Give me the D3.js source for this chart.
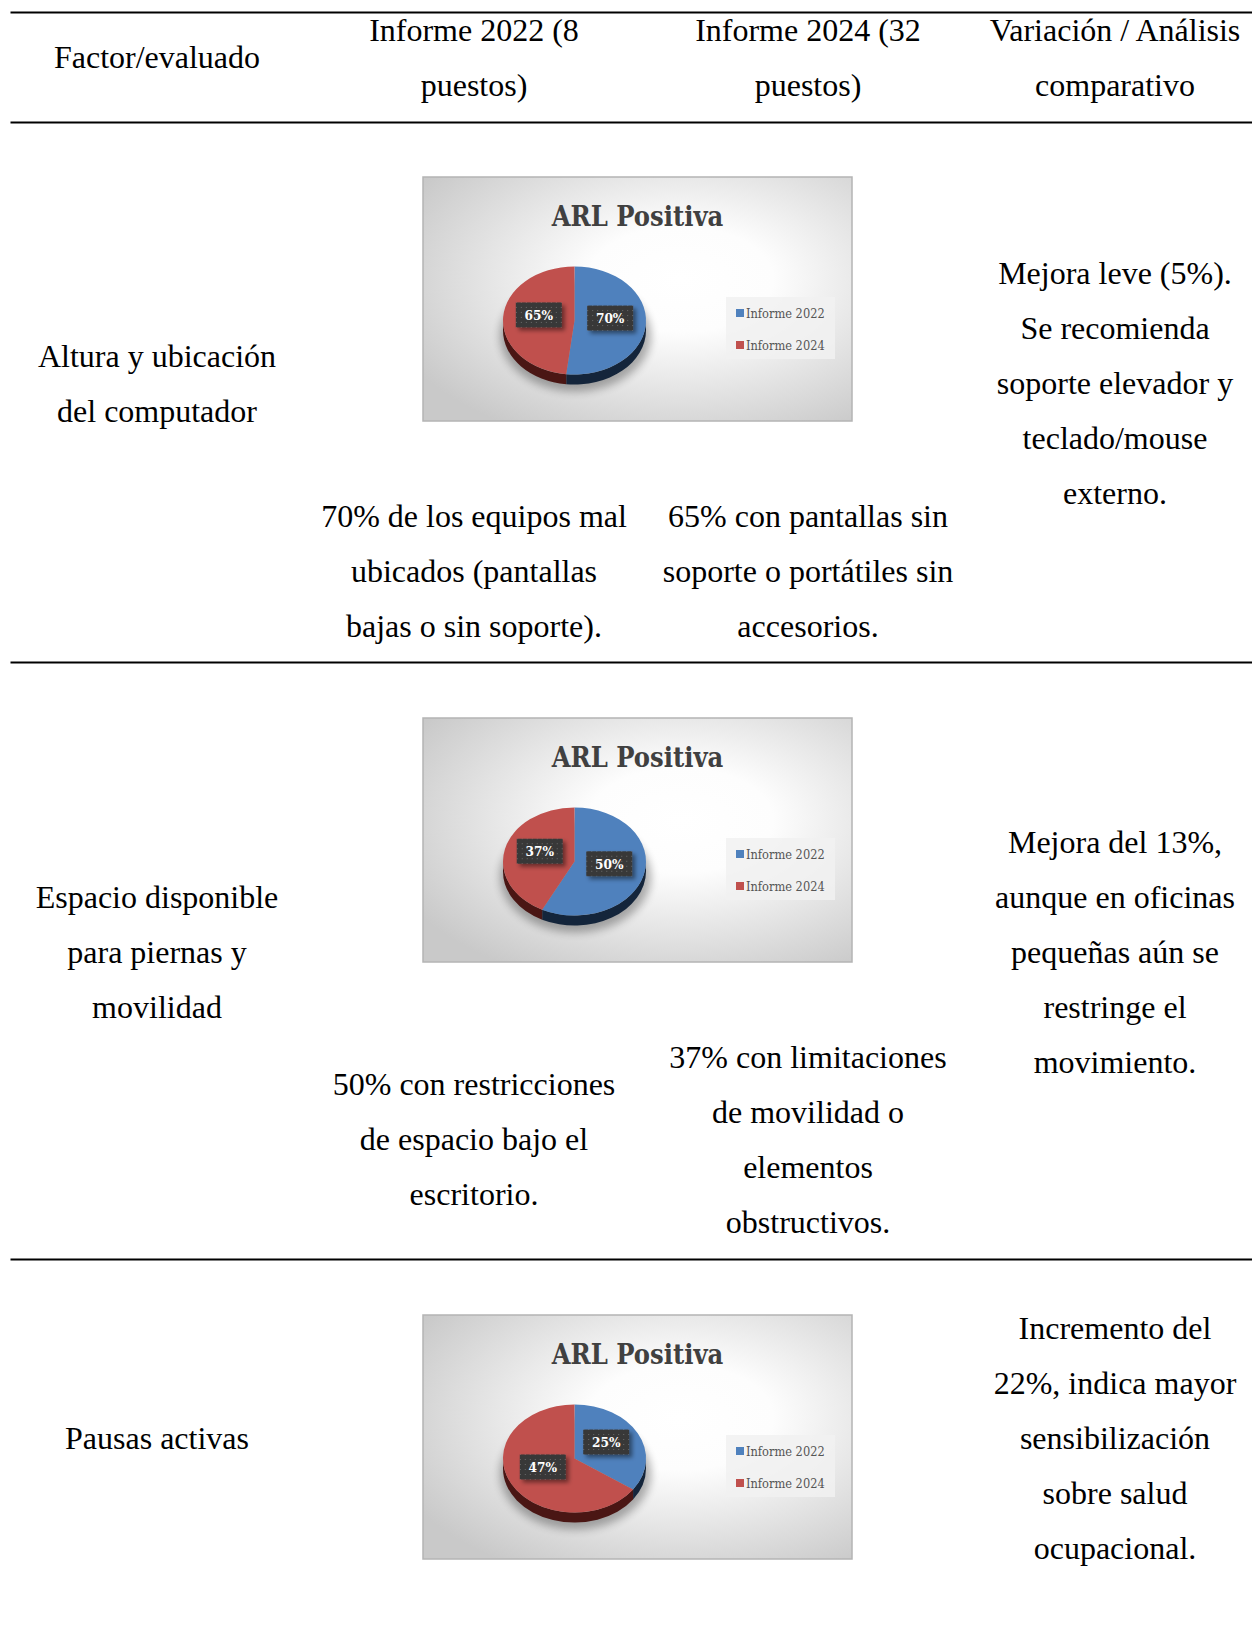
<!DOCTYPE html>
<html>
<head>
<meta charset="utf-8">
<script src="https://cdn.jsdelivr.net/npm/d3@7"></script>
<style>
  body { margin: 0; background: #ffffff; }
  svg { display: block; }
</style>
</head>
<body>
<svg id="page"></svg>
<script>
// ---- Table content ----
const headers = [
  ["Factor/evaluado"],
  ["Informe 2022 (8", "puestos)"],
  ["Informe 2024 (32", "puestos)"],
  ["Variación / Análisis", "comparativo"]
];
const factors = [
  ["Altura y ubicación", "del computador"],
  ["Espacio disponible", "para piernas y", "movilidad"],
  ["Pausas activas"]
];
const notes2022 = [
  ["70% de los equipos mal", "ubicados (pantallas", "bajas o sin soporte)."],
  ["50% con restricciones", "de espacio bajo el", "escritorio."],
  []
];
const notes2024 = [
  ["65% con pantallas sin", "soporte o portátiles sin", "accesorios."],
  ["37% con limitaciones", "de movilidad o", "elementos", "obstructivos."],
  []
];
const analysis = [
  ["Mejora leve (5%).", "Se recomienda", "soporte elevador y", "teclado/mouse", "externo."],
  ["Mejora del 13%,", "aunque en oficinas", "pequeñas aún se", "restringe el", "movimiento."],
  ["Incremento del", "22%, indica mayor", "sensibilización", "sobre salud", "ocupacional."]
];

// ---- Pie chart data (one chart per row) ----
const chartTitle = "ARL Positiva";
const seriesNames = ["Informe 2022", "Informe 2024"];
const values2022 = [70, 50, 25];
const values2024 = [65, 37, 47];

// ---- Layout ----
const W = 1252, H = 1625;
const colX = [157, 474, 808, 1115];
const rules = [12.5, 122.5, 662.5, 1259.5];
const lineGap = 55;
const headerMid = 68;
const rowMid = [394, 963, 1449];
const noteMid = [582, 1150, null];
const chartTop = [177, 718, 1315];
const chartLeft = 423, chartW = 429, chartH = 244;

const svg = d3.select("#page").attr("width", W).attr("height", H);
const defs = svg.append("defs");

// Chart plot-area background
const bg = defs.append("radialGradient").attr("id", "plotBg")
  .attr("cx", 0.6).attr("cy", 0.42).attr("r", 0.72).attr("fx", 0.6).attr("fy", 0.42);
bg.append("stop").attr("offset", 0).attr("stop-color", "#ffffff");
bg.append("stop").attr("offset", 0.3).attr("stop-color", "#fdfdfd");
bg.append("stop").attr("offset", 1).attr("stop-color", "#c9c9c9");

// Colors of the two series and their darker sides
const topColor = d3.scaleOrdinal().domain(seriesNames).range(["#4f81bd", "#c0504d"]);
const sideStops = {
  "Informe 2022": ["#14253b", "#2b4b74", "#1a3150"],
  "Informe 2024": ["#4a1614", "#8c3431", "#5c1f1d"]
};

// Dotted label-box fill
const pat = defs.append("pattern").attr("id", "dots")
  .attr("width", 5).attr("height", 5).attr("patternUnits", "userSpaceOnUse");
pat.append("rect").attr("width", 5).attr("height", 5).attr("fill", "#383838");
pat.append("rect").attr("x", 2).attr("y", 2).attr("width", 1).attr("height", 1).attr("fill", "#6c6c6c");

const ds = defs.append("filter").attr("id", "boxShadow")
  .attr("x", "-30%").attr("y", "-30%").attr("width", "170%").attr("height", "190%");
ds.append("feDropShadow").attr("dx", 3).attr("dy", 3).attr("stdDeviation", 2)
  .attr("flood-color", "#000").attr("flood-opacity", 0.45);

const blur = defs.append("filter").attr("id", "pieShadow")
  .attr("x", "-30%").attr("y", "-50%").attr("width", "160%").attr("height", "200%");
blur.append("feGaussianBlur").attr("stdDeviation", 4.5);

// ---- Table rules ----
svg.selectAll("line.rule").data(rules).join("line")
  .attr("class", "rule")
  .attr("x1", 10.5).attr("x2", W)
  .attr("y1", d => d).attr("y2", d => d)
  .attr("stroke", "#000").attr("stroke-width", 1.8);

// ---- Text helpers ----
function textBlock(lines, x, mid) {
  const n = lines.length;
  svg.append("g").selectAll("text").data(lines).join("text")
    .attr("x", x)
    .attr("y", (d, i) => mid + (i - (n - 1) / 2) * lineGap)
    .attr("text-anchor", "middle")
    .attr("font-family", "'Liberation Serif', 'Times New Roman', serif")
    .attr("font-size", 32)
    .attr("fill", "#000")
    .text(d => d);
}

headers.forEach((h, i) => textBlock(h, colX[i], headerMid));
factors.forEach((f, r) => {
  textBlock(f, colX[0], rowMid[r]);
  textBlock(analysis[r], colX[3], rowMid[r]);
  if (noteMid[r] !== null) {
    textBlock(notes2022[r], colX[1], noteMid[r]);
    textBlock(notes2024[r], colX[2], noteMid[r]);
  }
});

// ---- 3D-style pie chart ----
const pie = d3.pie().sort(null).value(d => d.value);
const rx = 71.5, ry = 54, depth = 10;
const pcx = 151.5, pcy = 143.5;
const arc = d3.arc().innerRadius(0).outerRadius(rx);
const ept = (a, dy = 0) => [pcx + rx * Math.sin(a), pcy - ry * Math.cos(a) + dy];

function drawChart(r) {
  const g = svg.append("g").attr("transform", `translate(${chartLeft},${chartTop[r]})`);
  const data = seriesNames.map((s, i) => ({ name: s, value: i === 0 ? values2022[r] : values2024[r] }));
  const slices = pie(data);

  g.append("rect").attr("x", 0).attr("y", 0).attr("width", chartW).attr("height", chartH)
    .attr("fill", "url(#plotBg)").attr("stroke", "#b4b4b4").attr("stroke-width", 1.5);

  g.append("text").attr("x", chartW / 2).attr("y", 49)
    .attr("text-anchor", "middle")
    .attr("font-family", "'DejaVu Serif Condensed', 'DejaVu Serif', serif")
    .attr("font-stretch", "condensed")
    .attr("font-weight", "bold").attr("font-size", 27)
    .attr("fill", "#404040").text(chartTitle);

  // soft floor shadow
  g.append("ellipse").attr("cx", pcx + 1).attr("cy", pcy + depth + 5)
    .attr("rx", rx + 4).attr("ry", ry + 2)
    .attr("fill", "#000").attr("opacity", 0.3).attr("filter", "url(#pieShadow)");

  // side walls (front half only)
  slices.forEach((s, i) => {
    const a0 = Math.max(s.startAngle, Math.PI / 2);
    const a1 = Math.min(s.endAngle, 3 * Math.PI / 2);
    if (a0 >= a1) return;
    const gid = `side${r}_${i}`;
    const lg = defs.append("linearGradient").attr("id", gid)
      .attr("gradientUnits", "userSpaceOnUse")
      .attr("x1", chartLeft + pcx - rx).attr("x2", chartLeft + pcx + rx)
      .attr("y1", 0).attr("y2", 0);
    sideStops[s.data.name].forEach((c, k) => lg.append("stop").attr("offset", k / 2).attr("stop-color", c));
    const p0 = ept(a0), p1 = ept(a1), q1 = ept(a1, depth), q0 = ept(a0, depth);
    const d = `M${p0}A${rx},${ry} 0 0 1 ${p1}L${q1}A${rx},${ry} 0 0 0 ${q0}Z`;
    g.append("path").attr("d", d).attr("fill", `url(#${gid})`);
  });

  // top face
  g.append("g").attr("transform", `translate(${pcx},${pcy}) scale(1,${ry / rx})`)
    .selectAll("path").data(slices).join("path")
    .attr("d", arc)
    .attr("fill", d => topColor(d.data.name));

  // data labels
  slices.forEach(s => {
    const a = (s.startAngle + s.endAngle) / 2;
    const lx = pcx + 0.5 * rx * Math.sin(a);
    const ly = pcy - 0.5 * ry * Math.cos(a) - 4;
    const lbl = g.append("g").attr("transform", `translate(${lx},${ly})`);
    lbl.append("rect").attr("x", -23).attr("y", -12.5).attr("width", 46).attr("height", 25)
      .attr("fill", "url(#dots)").attr("filter", "url(#boxShadow)");
    lbl.append("text").attr("y", 5).attr("text-anchor", "middle")
      .attr("font-family", "'DejaVu Serif Condensed', 'DejaVu Serif', serif")
      .attr("font-stretch", "condensed")
      .attr("font-weight", "bold").attr("font-size", 13.5)
      .attr("fill", "#ffffff").text(s.data.value + "%");
  });

  // legend
  const lgd = g.append("g").attr("transform", "translate(303,120)");
  lgd.append("rect").attr("width", 109).attr("height", 62)
    .attr("fill", "#f1f1f1").attr("opacity", 0.85);
  const items = lgd.selectAll("g.item").data(seriesNames).join("g")
    .attr("class", "item")
    .attr("transform", (d, i) => `translate(10,${12 + i * 32})`);
  items.append("rect").attr("width", 8).attr("height", 8).attr("fill", d => topColor(d));
  items.append("text").attr("x", 10).attr("y", 8.5)
    .attr("font-family", "'DejaVu Serif Condensed', 'DejaVu Serif', serif")
    .attr("font-stretch", "condensed")
    .attr("font-size", 12.7).attr("fill", "#555555").text(d => d);
}

[0, 1, 2].forEach(drawChart);
</script>
</body>
</html>
